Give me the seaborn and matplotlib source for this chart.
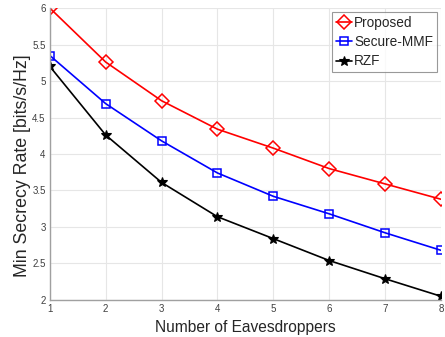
import matplotlib
matplotlib.use("Agg")
import matplotlib.pyplot as plt
import seaborn as sns
import pandas as pd

eaves = [1, 2, 3, 4, 5, 6, 7, 8]
proposed = [6.00, 5.26, 4.73, 4.34, 4.08, 3.80, 3.59, 3.38]
secure_mmf = [5.35, 4.69, 4.18, 3.74, 3.42, 3.18, 2.92, 2.68]
rzf = [5.20, 4.26, 3.61, 3.14, 2.84, 2.54, 2.29, 2.05]
series_names = ["Proposed", "Secure-MMF", "RZF"]
x_ticks = [1, 2, 3, 4, 5, 6, 7, 8]
y_ticks = [2, 2.5, 3, 3.5, 4, 4.5, 5, 5.5, 6]

sns.set_style("white")
plt.rcParams['font.family'] = ['Liberation Sans', 'DejaVu Sans']

fig = plt.figure(figsize=(4.45, 3.37), dpi=100)
ax = fig.add_axes([0.112, 0.110, 0.879, 0.866])

styles = [
    dict(color="#ff0000", marker="D", markerfacecolor="none", markeredgecolor="#ff0000", markersize=7, markeredgewidth=1.1),
    dict(color="#0000ff", marker="s", markerfacecolor="none", markeredgecolor="#0000ff", markersize=5.5, markeredgewidth=1.1),
    dict(color="#000000", marker="*", markerfacecolor="#000000", markeredgecolor="#000000", markersize=7, markeredgewidth=0.8),
]
for name, vals, st in zip(series_names, [proposed, secure_mmf, rzf], styles):
    df = pd.DataFrame({"x": eaves, "y": vals})
    sns.lineplot(data=df, x="x", y="y", ax=ax, label=name, linewidth=1.2, **st)

ax.set_xlim(1, 8)
ax.set_ylim(2, 6)
ax.set_xticks(x_ticks)
ax.set_yticks(y_ticks)
ax.set_yticklabels([("%g" % v) for v in y_ticks])
ax.grid(True, color="#e6e6e6", linewidth=0.8)
ax.set_axisbelow(True)
for s in ["top", "right"]:
    ax.spines[s].set_visible(False)
for s in ["left", "bottom"]:
    ax.spines[s].set_color("#a0a0a0")
    ax.spines[s].set_linewidth(1.0)
ax.tick_params(axis="both", direction="in", length=3, width=0.6, color="#a0a0a0",
               labelsize=7, labelcolor="#404040", pad=3)
ax.set_xlabel("Number of Eavesdroppers", fontsize=11.2, color="#262626", labelpad=4)
ax.set_ylabel("Min Secrecy Rate [bits/s/Hz]", fontsize=12.8, color="#262626", labelpad=0)
ax.yaxis.set_label_coords(-0.048, 0.46)

leg = ax.legend(loc="upper right", bbox_to_anchor=(0.99, 0.987), fontsize=9.8, frameon=True,
                fancybox=False, handlelength=1.2, handletextpad=0.15, borderpad=0.3,
                labelspacing=0.38, borderaxespad=0.0)
leg.get_frame().set_edgecolor("#808080")
leg.get_frame().set_linewidth(0.8)

fig.savefig("out.png", dpi=100)
